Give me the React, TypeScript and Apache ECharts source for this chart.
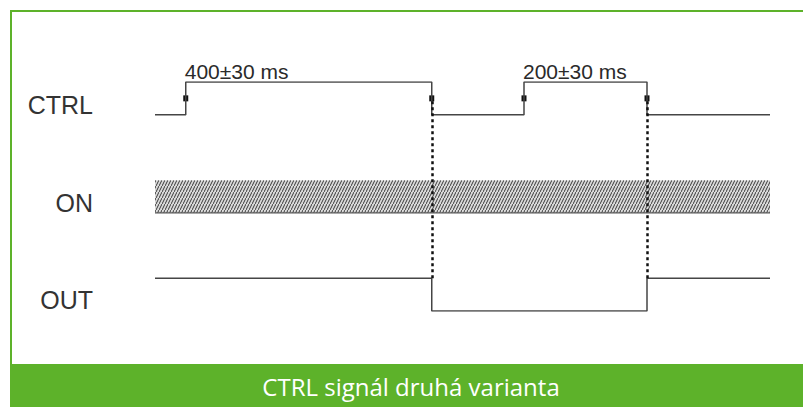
import React, { useEffect, useRef } from "react";
import * as echarts from "echarts";

// ---- data ----
const signalNames = ["OUT", "ON", "CTRL"];
const timeMin = -50;
const timeMax = 950;
const ctrlTimes = [-50, 0, 400, 550, 750, 950];
const ctrlStates = [0, 1, 0, 1, 0, 0];
const outTimes = [-50, 400, 750, 950];
const outStates = [1, 0, 1, 1];
const onSpan = [-50, 950];
const pulseStarts = [0, 550];
const pulseEnds = [400, 750];
const tolerances = [30, 30];
const footerTitle = "CTRL signál druhá varianta";

// lane bases (value-axis units)
const OUT_BASE = 0;
const ON_BASE = 3;
const CTRL_BASE = 6;
const MARK_Y = 6.5;

const GREEN = "#5db22a";
const INK = "#454545";

export default function App() {
  const ref = useRef<HTMLDivElement>(null);
  useEffect(() => {
    document.body.style.margin = "0";
    if (!ref.current) return;
    const chart = echarts.init(ref.current, null, { renderer: "svg" });

    const c = document.createElement("canvas");
    c.width = 3;
    c.height = 6;
    const ctx = c.getContext("2d")!;
    ctx.fillStyle = "#d9d9d9";
    ctx.fillRect(0, 0, 3, 6);
    ctx.strokeStyle = "#3a3a3a";
    ctx.lineWidth = 1.0;
    ctx.beginPath();
    ctx.moveTo(0, 6);
    ctx.lineTo(3, 0);
    ctx.stroke();
    const pattern = { image: c, repeat: "repeat" };

    const edges = pulseStarts.flatMap((s, i) => [s, pulseEnds[i]]);

    const option: any = {
      animation: false,
      grid: [
        { left: 155, right: 33, top: 82, bottom: 96 },
        { left: 155, right: 33, top: 56, bottom: 58 },
      ],
      xAxis: [
        { type: "value", min: timeMin, max: timeMax, show: false, gridIndex: 0 },
        { type: "value", min: timeMin, max: timeMax, show: false, gridIndex: 1 },
      ],
      yAxis: [
        { type: "value", min: 0, max: 7, show: false, gridIndex: 0 },
        {
          type: "category",
          gridIndex: 1,
          data: signalNames,
          axisLine: { show: false },
          axisTick: { show: false },
          splitLine: { show: false },
          axisLabel: {
            fontSize: 25,
            color: "#333",
            fontFamily: "Liberation Sans",
            margin: 62,
          },
        },
      ],
      graphic: [
        {
          type: "rect",
          shape: { x: 10, y: 364, width: 793, height: 43 },
          style: { fill: GREEN },
          silent: true,
        },
        {
          type: "line",
          shape: { x1: 11, y1: 10, x2: 11, y2: 364 },
          style: { stroke: GREEN, lineWidth: 2 },
          silent: true,
        },
        {
          type: "line",
          shape: { x1: 10, y1: 11, x2: 803, y2: 11 },
          style: { stroke: GREEN, lineWidth: 2 },
          silent: true,
        },
        {
          type: "text",
          x: 411,
          y: 386,
          style: {
            text: footerTitle,
            fill: "#fff",
            font: '24px "Open Sans"',
            textAlign: "center",
            textVerticalAlign: "middle",
          },
          silent: true,
        },
      ],
      series: [
        {
          name: "CTRL",
          type: "line",
          step: "end",
          xAxisIndex: 0,
          yAxisIndex: 0,
          symbol: "none",
          silent: true,
          lineStyle: { color: INK, width: 1.5 },
          data: ctrlTimes.map((t, i) => [t, CTRL_BASE + ctrlStates[i]]),
        },
        {
          name: "ON",
          type: "line",
          xAxisIndex: 0,
          yAxisIndex: 0,
          symbol: "none",
          silent: true,
          lineStyle: { color: "#555", width: 1.2 },
          data: [
            [onSpan[0], ON_BASE],
            [onSpan[1], ON_BASE],
          ],
          markArea: {
            silent: true,
            itemStyle: { color: pattern, borderWidth: 0 },
            data: [[{ coord: [onSpan[0], ON_BASE] }, { coord: [onSpan[1], ON_BASE + 1] }]],
          },
        },
        {
          name: "OUT",
          type: "line",
          step: "end",
          xAxisIndex: 0,
          yAxisIndex: 0,
          symbol: "none",
          silent: true,
          lineStyle: { color: INK, width: 1.5 },
          data: outTimes.map((t, i) => [t, OUT_BASE + outStates[i]]),
          markLine: {
            silent: true,
            symbol: ["none", "none"],
            label: { show: false },
            lineStyle: { type: [3, 3], width: 2.5, color: "#111", opacity: 1 },
            data: pulseEnds.map((t) => [
              { coord: [t, OUT_BASE + 1] },
              { coord: [t, MARK_Y] },
            ]),
          },
        },
        {
          name: "markers",
          type: "scatter",
          xAxisIndex: 0,
          yAxisIndex: 0,
          silent: true,
          symbol: "rect",
          symbolSize: [5, 6],
          itemStyle: { color: "#111", opacity: 1 },
          data: edges.map((t) => [t, MARK_Y]),
        },
        {
          name: "durations",
          type: "scatter",
          xAxisIndex: 0,
          yAxisIndex: 0,
          silent: true,
          symbolSize: 0,
          itemStyle: { opacity: 1 },
          data: pulseStarts.map((s, i) => ({
            value: [s, CTRL_BASE + 1],
            name: `${pulseEnds[i] - s}±${tolerances[i]} ms`,
          })),
          label: {
            show: true,
            position: "top",
            align: "left",
            distance: 0,
            offset: [-1, 0],
            formatter: (p: any) => p.name,
            fontSize: 21,
            color: "#2a2a2a",
            fontFamily: "Liberation Sans",
          },
        },
      ],
    };
    chart.setOption(option);
    return () => chart.dispose();
  }, []);
  return <div ref={ref} style={{ width: 803, height: 407 }} />;
}
